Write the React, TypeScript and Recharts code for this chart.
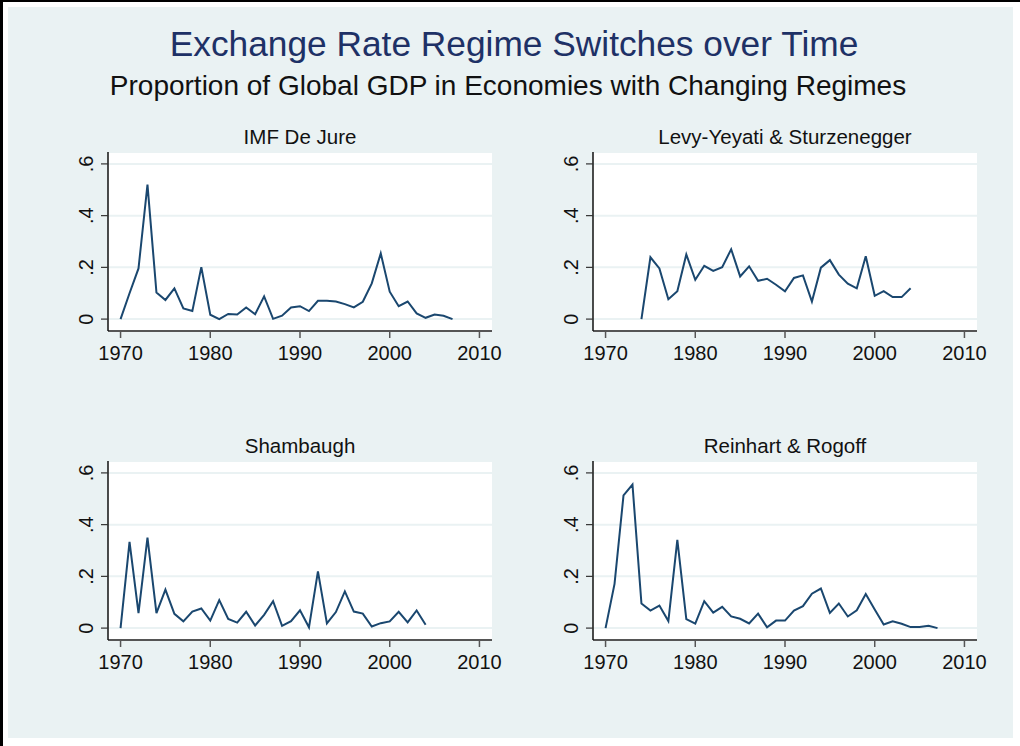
import { LineChart, Line, XAxis, YAxis, CartesianGrid } from "recharts";

const YEARS = [
  1970, 1971, 1972, 1973, 1974, 1975, 1976, 1977, 1978, 1979,
  1980, 1981, 1982, 1983, 1984, 1985, 1986, 1987, 1988, 1989,
  1990, 1991, 1992, 1993, 1994, 1995, 1996, 1997, 1998, 1999,
  2000, 2001, 2002, 2003, 2004, 2005, 2006, 2007,
];

// 1970-2007
const imfDeJure = [
  0, 0.1, 0.196, 0.52, 0.103, 0.074, 0.119, 0.041, 0.031, 0.201,
  0.017, 0.0, 0.02, 0.018, 0.045, 0.019, 0.088, 0.001, 0.013, 0.045,
  0.05, 0.031, 0.071, 0.071, 0.068, 0.058, 0.045, 0.067, 0.138, 0.254,
  0.106, 0.05, 0.068, 0.022, 0.005, 0.018, 0.013, 0.0,
];

// 1974-2004
const levyYeyati = [
  0, 0.239, 0.196, 0.077, 0.108, 0.25,
  0.152, 0.206, 0.186, 0.201, 0.27, 0.165, 0.204, 0.148, 0.156, 0.133,
  0.107, 0.159, 0.169, 0.068, 0.199, 0.228, 0.172, 0.137, 0.119, 0.243,
  0.09, 0.108, 0.085, 0.085, 0.119,
];

// 1970-2004
const shambaugh = [
  0, 0.333, 0.058, 0.35, 0.058, 0.149, 0.055, 0.026, 0.064, 0.076,
  0.029, 0.108, 0.035, 0.021, 0.063, 0.01, 0.051, 0.104, 0.009, 0.027,
  0.069, 0.003, 0.219, 0.018, 0.062, 0.142, 0.064, 0.056, 0.006, 0.019,
  0.026, 0.063, 0.022, 0.068, 0.013,
];

// 1970-2007
const reinhartRogoff = [
  0, 0.171, 0.513, 0.555, 0.095, 0.068, 0.087, 0.027, 0.341, 0.035,
  0.017, 0.104, 0.06, 0.082, 0.045, 0.036, 0.018, 0.056, 0.003, 0.029,
  0.029, 0.068, 0.085, 0.133, 0.153, 0.059, 0.095, 0.045, 0.069, 0.132,
  0.072, 0.014, 0.026, 0.017, 0.004, 0.004, 0.009, 0,
];

const X_TICKS = [1970, 1980, 1990, 2000, 2010];
const Y_TICKS = [0, 0.2, 0.4, 0.6];

const FONT = "'Liberation Sans', Arial, sans-serif";
const BG = "#eaf2f3";
const LINE = "#1a476f";

const toRows = (startYear: number, values: number[]) => {
  const start = YEARS.indexOf(startYear);
  return values.map((v, i) => ({ year: YEARS[start + i], value: v }));
};

const fmtY = (v: number) => (v === 0 ? "0" : String(v).replace(/^0/, ""));

const YTick = (props: any) => {
  const { x, y, payload } = props;
  const cx = x - 12.5;
  return (
    <text
      x={cx}
      y={y}
      transform={`rotate(-90 ${cx} ${y})`}
      textAnchor="middle"
      dominantBaseline="central"
      fill="#111"
      fontSize={20}
      fontFamily={FONT}
    >
      {fmtY(payload.value)}
    </text>
  );
};

function Panel({ title, rows, left, top }: { title: string; rows: { year: number; value: number }[]; left: number; top: number }) {
  return (
    <>
      <div style={{
        position: "absolute",
        left: left + 48,
        width: 384,
        top: top - 15,
        textAlign: "center",
        fontSize: 20.5,
        fontFamily: FONT,
        color: "#111",
        lineHeight: "24px",
      }}>{title}</div>
      <div style={{ position: "absolute", left, top }}>
        <LineChart width={450} height={230} data={rows} margin={{ top: 12, right: 18, left: 0, bottom: 0 }}>
          <CartesianGrid vertical={false} stroke={BG} strokeWidth={2} fill="#ffffff" />
          <XAxis
            dataKey="year"
            type="number"
            domain={[1968.6, 2011.4]}
            ticks={X_TICKS}
            allowDataOverflow
            height={39}
            tickSize={7}
            tickMargin={8}
            axisLine={{ stroke: "#555", strokeWidth: 2 }}
            tickLine={{ stroke: "#555", strokeWidth: 1.5 }}
            tick={{ fill: "#111", fontSize: 20, fontFamily: FONT }}
          />
          <YAxis
            type="number"
            domain={[-0.046, 0.646]}
            ticks={Y_TICKS}
            allowDataOverflow
            width={48}
            tickSize={7}
            tickMargin={2}
            axisLine={{ stroke: "#111", strokeWidth: 1.5 }}
            tickLine={{ stroke: "#333", strokeWidth: 1.2 }}
            tick={<YTick />}
          />
          <Line
            type="linear"
            dataKey="value"
            stroke={LINE}
            strokeWidth={2}
            dot={false}
            isAnimationActive={false}
          />
        </LineChart>
      </div>
    </>
  );
}

export default function App() {
  return (
    <div style={{ position: "fixed", left: 0, top: 0, width: 1020, height: 746, background: "#fff", overflow: "hidden" }}>
      <div style={{ position: "absolute", left: 0, top: 0, width: 1020, height: 2, background: "#000" }} />
      <div style={{ position: "absolute", left: 0, top: 0, width: 3, height: 746, background: "#000" }} />
      <div style={{ position: "absolute", left: 8, top: 7, width: 1005, height: 731, background: BG }} />
      <div style={{
        position: "absolute", left: 0, width: 1028, top: 24, textAlign: "center",
        fontSize: 35.3, fontFamily: FONT, color: "#1e3166", lineHeight: "40px",
      }}>Exchange Rate Regime Switches over Time</div>
      <div style={{
        position: "absolute", left: 0, width: 1016, top: 70, textAlign: "center",
        fontSize: 28, fontFamily: FONT, color: "#111", lineHeight: "32px",
      }}>Proportion of Global GDP in Economies with Changing Regimes</div>
      <Panel title="IMF De Jure" rows={toRows(1970, imfDeJure)} left={60} top={140} />
      <Panel title="Levy-Yeyati & Sturzenegger" rows={toRows(1974, levyYeyati)} left={545} top={140} />
      <Panel title="Shambaugh" rows={toRows(1970, shambaugh)} left={60} top={449} />
      <Panel title="Reinhart & Rogoff" rows={toRows(1970, reinhartRogoff)} left={545} top={449} />
    </div>
  );
}
